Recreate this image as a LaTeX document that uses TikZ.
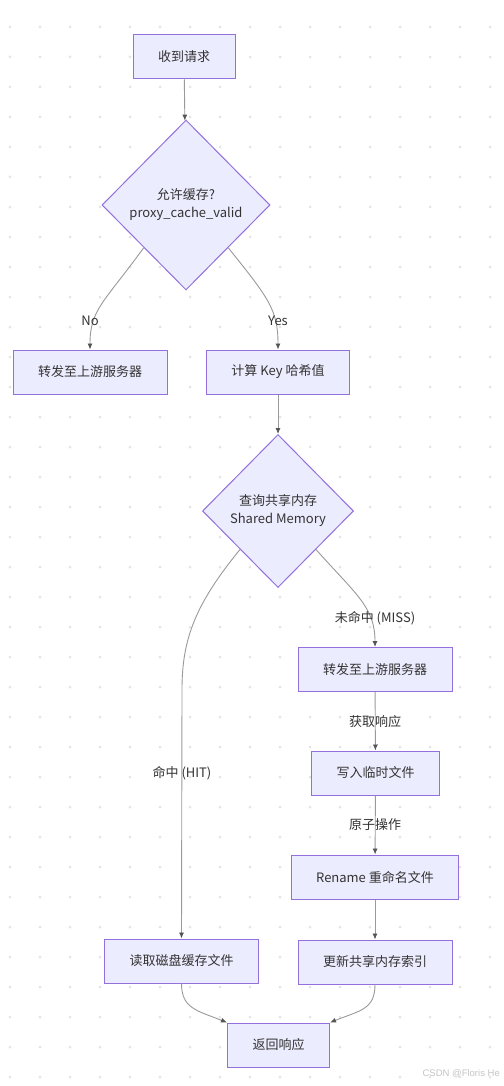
\documentclass[tikz,border=0pt]{standalone}
\usepackage{fontspec}
\setmainfont{Noto Sans CJK SC}
\newfontfamily\markfont{Liberation Sans}
\usepackage{xcolor}
\usepackage{tikz}
\usetikzlibrary{arrows.meta,shapes.geometric}
\definecolor{mmpurple}{HTML}{9370DB}
\definecolor{mmfill}{HTML}{ECECFF}
\definecolor{mmtext}{HTML}{333333}
\definecolor{mmedge}{HTML}{9A9A9A}
\definecolor{mmtip}{HTML}{555555}
\definecolor{mmdot}{HTML}{E4E4E4}
\definecolor{mmmark}{HTML}{C4C4C4}
\tikzset{
  pbox/.style={draw=mmpurple,fill=mmfill,line width=1pt,minimum height=44pt,
    inner xsep=25pt,text=mmtext,font=\fontsize{13}{18}\selectfont},
  pdecide/.style={diamond,draw=mmpurple,fill=mmfill,line width=1pt,align=center,
    inner sep=0pt,text=mmtext,font=\fontsize{13}{18}\selectfont},
  elabel/.style={text=mmtext,font=\fontsize{13}{16}\selectfont,inner sep=1pt},
  flow/.style={-{Latex[length=6pt,width=5pt,color=mmtip]},draw=mmedge,line width=0.9pt}
}

\begin{document}
\begin{tikzpicture}[x=1pt,y=-1pt]
    \fill[white] (0,0) rectangle (503,1086);
    \useasboundingbox (0,0) rectangle (503,1086);
    \foreach \i in {10,40,...,490}
      \foreach \j in {27,57,...,1077}
        \fill[mmdot] (\i,\j) circle (1.5pt);
    \node[pbox] (recv) at (184,57) {收到请求};
    \node[pdecide,minimum width=168pt,minimum height=170pt] (allow) at (186,205) {允许缓存?\\proxy\_cache\_valid};
    \node[pbox] (up1) at (90,372) {转发至上游服务器};
    \node[pbox] (hash) at (278,372) {计算 Key 哈希值};
    \node[pdecide,minimum width=151pt,minimum height=153pt] (query) at (278,511) {查询共享内存\\Shared Memory};
    \node[pbox] (up2) at (375,669.5) {转发至上游服务器};
    \node[pbox] (tmp) at (375.5,773) {写入临时文件};
    \node[pbox] (ren) at (375,877) {Rename 重命名文件};
    \node[pbox] (idx) at (375,962) {更新共享内存索引};
    \node[pbox] (read) at (181.5,961) {读取磁盘缓存文件};
    \node[pbox] (ret) at (278.5,1045) {返回响应};
    \draw[flow] (recv)--(allow);
    \draw[flow] (allow.south west) .. controls +(-40,55) and +(0,-40) .. (up1.north);
    \draw[flow] (allow.south east) .. controls +(40,50) and +(0,-40) .. (hash.north);
    \draw[flow] (hash)--(query);
    \draw[flow] (query.south west) .. controls +(-45,55) and +(0,-50) .. ++(-58,140) -- (read.north);
    \draw[flow] (query.south east) .. controls +(40,45) and +(0,-40) .. (up2.north);
    \draw[flow] (up2)--(tmp);
    \draw[flow] (tmp)--(ren);
    \draw[flow] (ren)--(idx);
    \draw[flow] (read.south) .. controls +(0,25) and +(-30,-12) .. (ret.north west);
    \draw[flow] (idx.south) .. controls +(0,25) and +(30,-12) .. (ret.north east);
    \node[elabel] (lno) at (90,321) {No};
    \node[elabel] (lyes) at (278,321) {Yes};
    \node[elabel] (lmiss) at (375,618) {未命中 (MISS)};
    \node[elabel] (lhit) at (182,773) {命中 (HIT)};
    \node[elabel] (lfetch) at (375,722) {获取响应};
    \node[elabel] (latom) at (375,825) {原子操作};
    \node[anchor=east,text=mmmark,font=\markfont\fontsize{9.5}{12}\selectfont,inner sep=0pt] (mark) at (500,1074) {CSDN @Floris He};
  \end{tikzpicture}
\end{document}
